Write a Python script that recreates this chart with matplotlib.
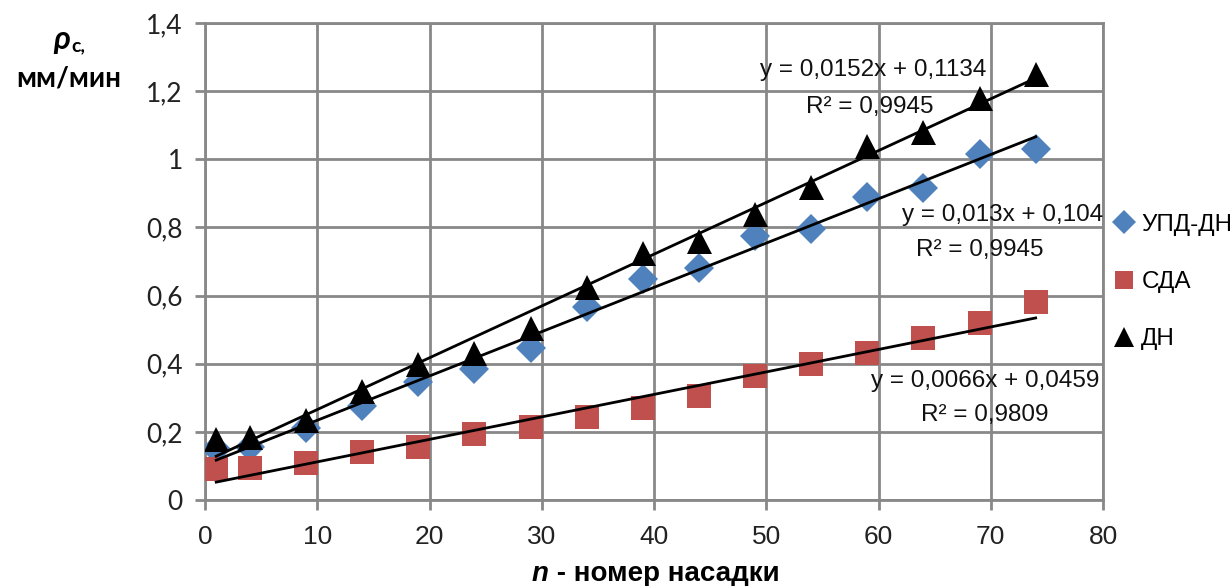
import matplotlib
matplotlib.use("Agg")
import matplotlib.pyplot as plt
import numpy as np
from matplotlib import font_manager as fm

x_vals = [1, 4, 9, 14, 19, 24, 29, 34, 39, 44, 49, 54, 59, 64, 69, 74]
upd_dn = [0.15, 0.155, 0.21, 0.275, 0.345, 0.385, 0.445, 0.565, 0.65, 0.68,
          0.775, 0.795, 0.89, 0.915, 1.015, 1.03]
sda = [0.09, 0.095, 0.11, 0.14, 0.155, 0.195, 0.215, 0.245, 0.27, 0.305,
       0.365, 0.40, 0.43, 0.475, 0.52, 0.58]
dn = [0.18, 0.185, 0.235, 0.32, 0.40, 0.43, 0.505, 0.625, 0.725, 0.76,
      0.84, 0.92, 1.04, 1.08, 1.18, 1.25]

series_names = ["УПД-ДН", "СДА", "ДН"]
trend_slope = {"УПД-ДН": 0.013, "СДА": 0.0066, "ДН": 0.0152}
trend_icpt = {"УПД-ДН": 0.104, "СДА": 0.0459, "ДН": 0.1134}
eq_text = {"УПД-ДН": "y = 0,013x + 0,104", "СДА": "y = 0,0066x + 0,0459",
           "ДН": "y = 0,0152x + 0,1134"}
r2_text = {"УПД-ДН": "R² = 0,9945", "СДА": "R² = 0,9809", "ДН": "R² = 0,9945"}

x_ticks = [0, 10, 20, 30, 40, 50, 60, 70, 80]
y_ticks = [0, 0.2, 0.4, 0.6, 0.8, 1.0, 1.2, 1.4]
y_tick_labels = ["0", "0,2", "0,4", "0,6", "0,8", "1", "1,2", "1,4"]

narrow = "Liberation Sans Narrow"
names = {f.name for f in fm.fontManager.ttflist}
if narrow not in names:
    narrow = "Liberation Sans"
base = "Lato"

fig = plt.figure(figsize=(12.3, 5.86), dpi=100)
ax = fig.add_axes([205/1230, 1-500/586, (1103-205)/1230, (500-23)/586])

grid_c = "#888888"
for s in ax.spines.values():
    s.set_color(grid_c)
    s.set_linewidth(2)
ax.set_xlim(0, 80)
ax.set_ylim(0, 1.4)
ax.set_xticks(x_ticks)
ax.set_xticklabels([str(t) for t in x_ticks], fontfamily=narrow, fontsize=19)
ax.set_yticks(y_ticks)
ax.set_yticklabels(y_tick_labels, fontfamily=base, fontsize=19)
ax.tick_params(axis="both", colors=grid_c, width=2, length=7, labelcolor="#222222")
ax.tick_params(axis="x", pad=11)
ax.tick_params(axis="y", pad=9)
ax.grid(True, color=grid_c, linewidth=2)
ax.set_axisbelow(True)

colors = {"УПД-ДН": "#4F81BD", "СДА": "#C0504D", "ДН": "#000000"}
markers = {"УПД-ДН": "D", "СДА": "s", "ДН": "^"}
msize = {"УПД-ДН": 15.5, "СДА": 17, "ДН": 18}
data = {"УПД-ДН": upd_dn, "СДА": sda, "ДН": dn}

xs = np.array(x_vals)
for name in series_names:
    ax.plot(xs, data[name], linestyle="none", marker=markers[name],
            markersize=msize[name], color=colors[name], markeredgewidth=0,
            label=name, zorder=3)
xl = np.array([x_vals[0], x_vals[-1]])
for name in series_names:
    ax.plot(xl, trend_slope[name]*xl + trend_icpt[name], color="black",
            linewidth=2, zorder=4)

ann = {"ДН": ((873, 70), (870, 107)),
       "УПД-ДН": ((1003, 215), (980, 250)),
       "СДА": ((985, 381), (985, 415))}
for name in series_names:
    (ex, ey), (rx, ry) = ann[name]
    fig.text(ex/1230, 1-ey/586, eq_text[name], ha="center", va="center",
             fontfamily=narrow, fontsize=17.5, color="#111111")
    fig.text(rx/1230, 1-ry/586, r2_text[name], ha="center", va="center",
             fontfamily=narrow, fontsize=17.5, color="#111111")

leg = fig.legend(loc="center left", bbox_to_anchor=(1100/1230, 1-282/586),
                 frameon=False, prop={"family": narrow, "size": 17.5},
                 labelspacing=1.45, handletextpad=0.1, handlelength=1.2,
                 borderaxespad=0, markerscale=0.8)

# y label
fig.text(70/1230, 1-40/586, "ρ", fontfamily=base, fontweight="bold",
         fontstyle="italic", fontsize=23, ha="right", va="center")
fig.text(71/1230, 1-46/586, "c,", fontfamily=base, fontweight="bold",
         fontsize=14, ha="left", va="center")
fig.text(69/1230, 1-78/586, "мм/мин", fontfamily=base, fontweight="bold",
         fontsize=20, ha="center", va="center")

# x label
t2 = fig.text(532/1230, 1-574/586, "n", fontfamily=narrow, fontweight="bold",
              fontstyle="italic", fontsize=20, ha="left", va="center")
ax.annotate(" - номер насадки", xy=(1, 0.5), xycoords=t2, va="center",
            ha="left", fontfamily=narrow, fontweight="bold", fontsize=20)

fig.savefig("out.png", dpi=100)
